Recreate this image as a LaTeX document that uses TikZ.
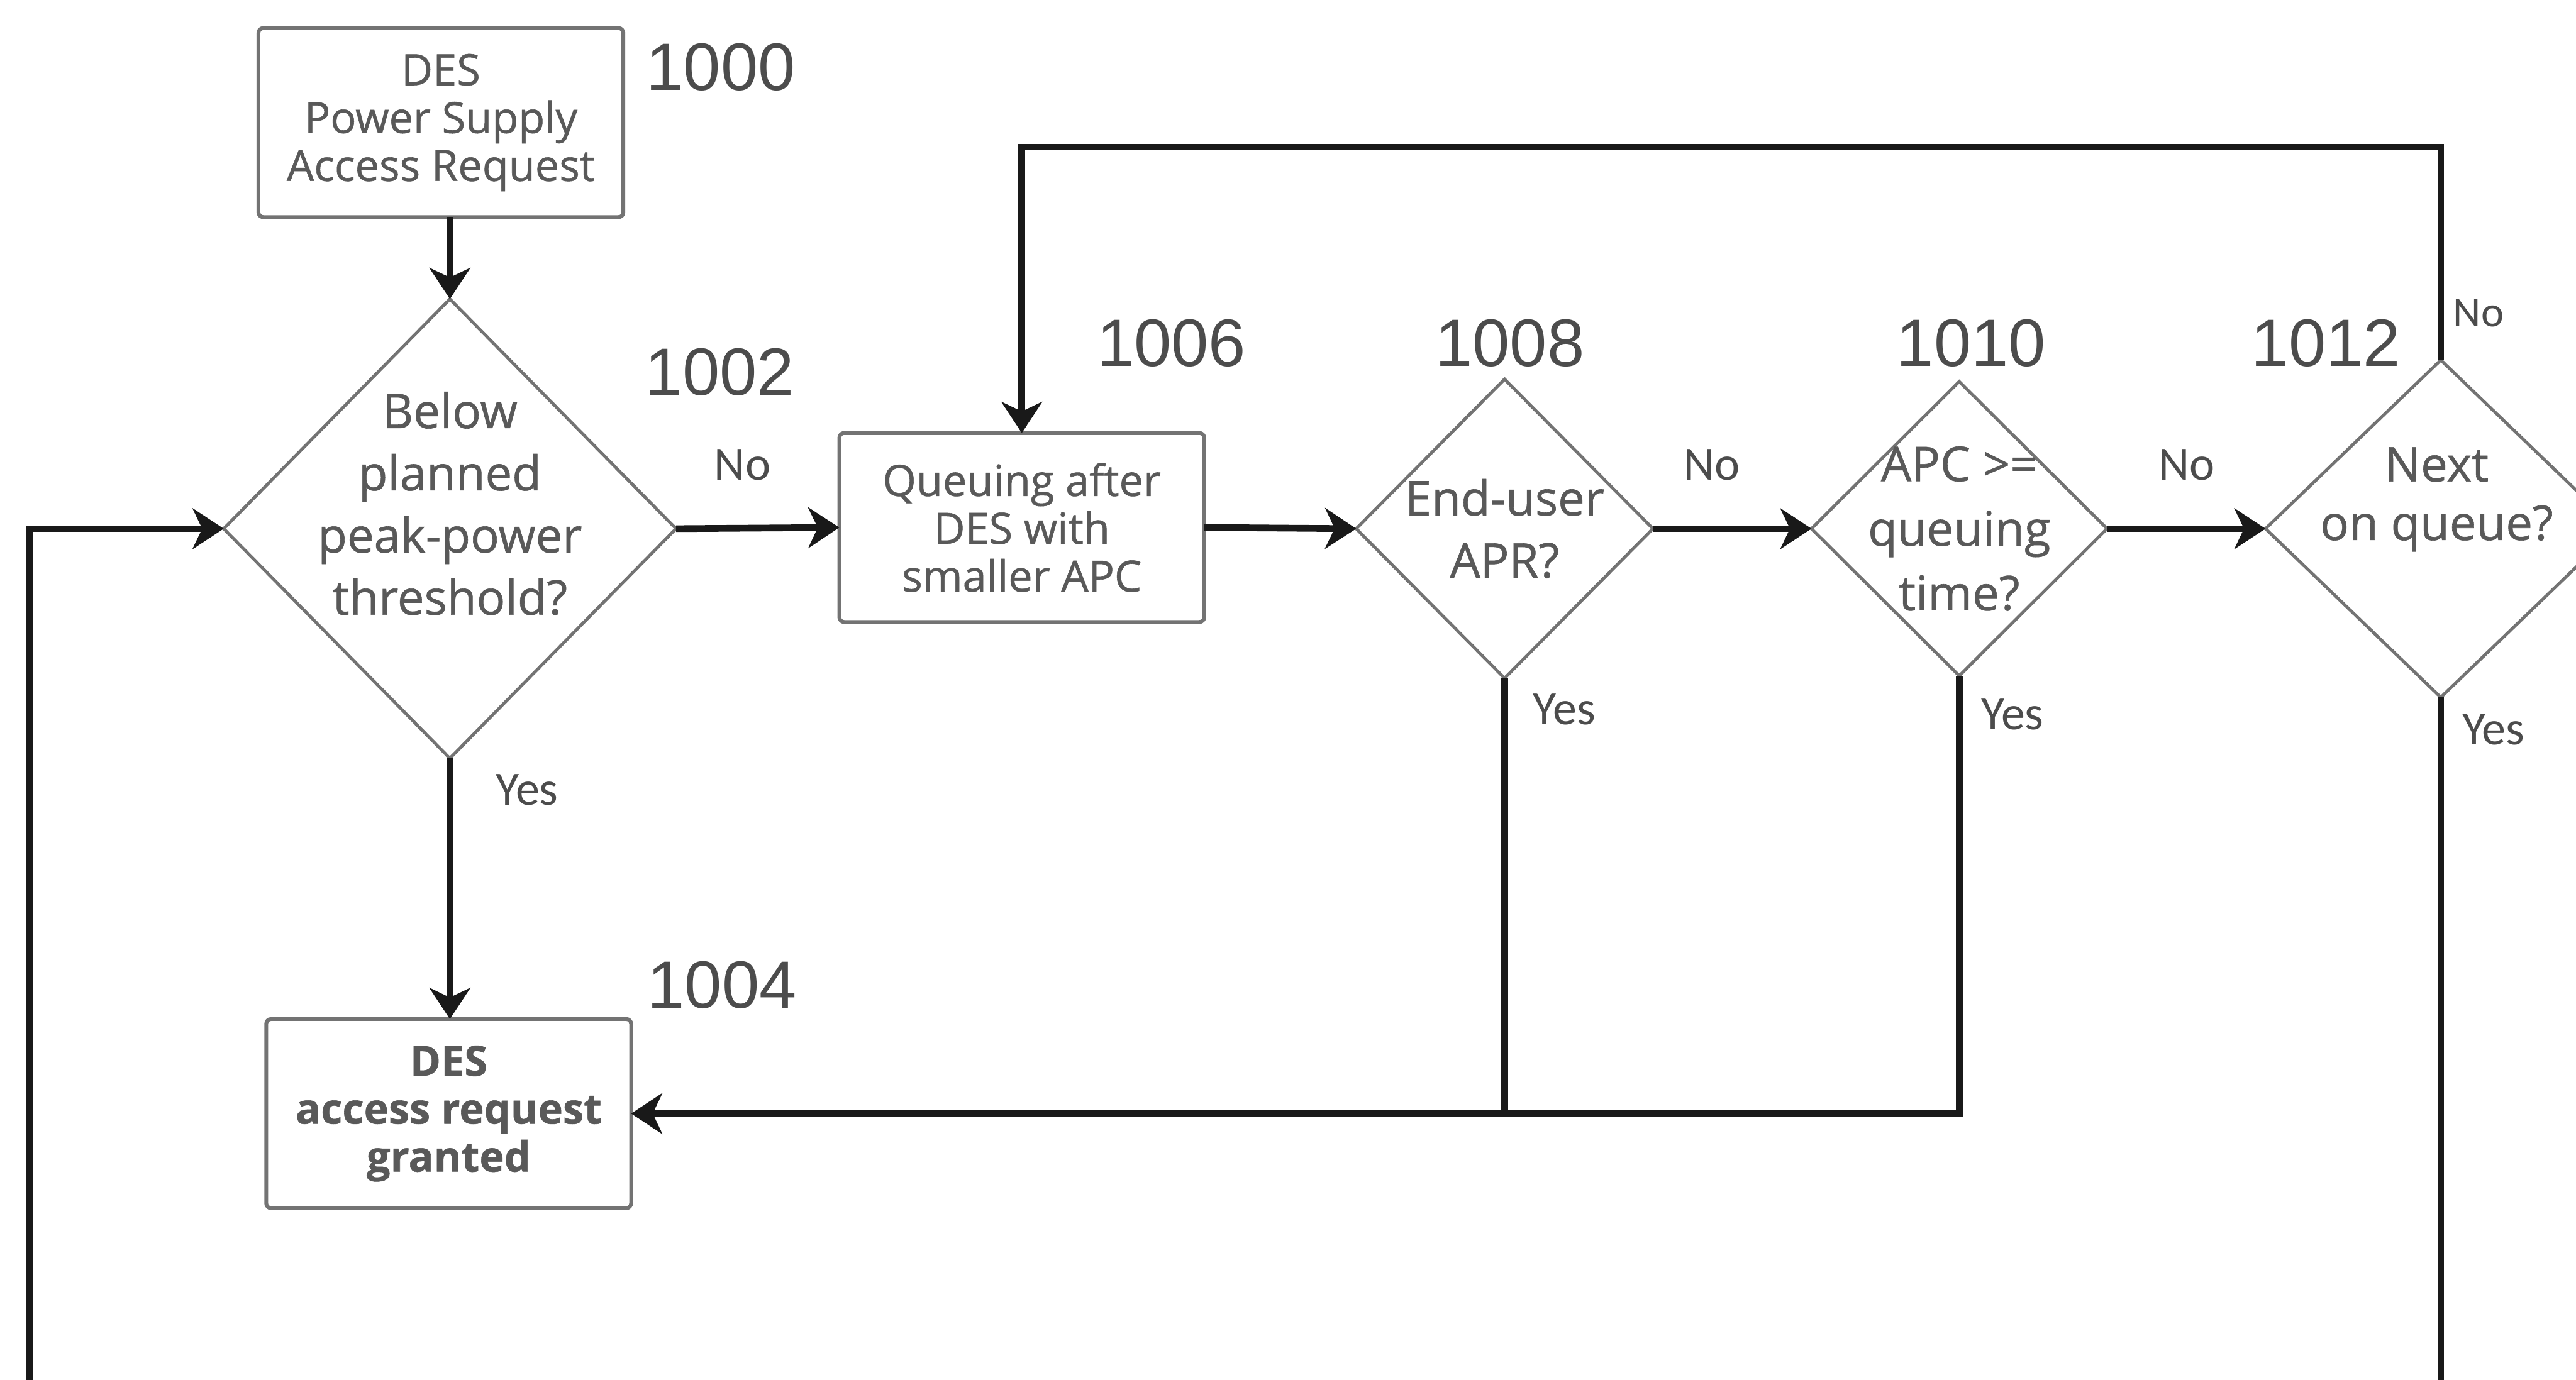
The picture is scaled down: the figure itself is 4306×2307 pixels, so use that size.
\documentclass[tikz,border=0pt]{standalone}
\usepackage{fontspec}
\setmainfont{Open Sans}[FakeBold=0.8]
\newfontfamily\numfont{Liberation Sans}
\newfontfamily\ynfont{Carlito}
\usetikzlibrary{arrows.meta,shapes.geometric}
\begin{document}
\begin{tikzpicture}[x=0.25pt,y=-0.25pt,
  boxnode/.style={draw=black!55, line width=1.6pt, rounded corners=2pt, minimum width=152.5pt, minimum height=79pt, inner sep=0pt, outer sep=0pt, align=center, text=black!65, font=\fontsize{18}{20}\selectfont},
  dia/.style={draw=black!55, line width=1.3pt, shape=diamond, inner sep=0pt, outer sep=0pt},
  dtext/.style={align=center, text=black!65, font=\fontsize{20}{26}\selectfont, inner sep=0pt},
  num/.style={text=black!70, font=\numfont\fontsize{28}{30}\selectfont, inner sep=0pt},
  yn/.style={text=black!70, font=\ynfont\fontsize{20}{22}\selectfont, inner sep=0pt},
  flow/.style={draw=black!90, line width=2.8pt, -{Stealth[length=13pt,width=17pt,inset=4pt]}},
  plainline/.style={draw=black!90, line width=2.8pt},
]
\useasboundingbox (0,0) rectangle (4306,2307);
\clip (0,0) rectangle (4306,2307);

% boxes and decisions
\node[boxnode] (b1000) at (737,205) {DES\\Power Supply\\Access Request};
\node[dia, minimum width=189pt, minimum height=192pt] (d1002) at (752,884) {};
\node[dtext] (t1002) at (752,842) {Below\\planned\\peak-power\\threshold?};
\node[boxnode] (b1006) at (1708,882) {Queuing after\\DES with\\smaller APC};
\node[boxnode, font=\bfseries\fontsize{17.5}{20}\selectfont] (b1004) at (750,1862) {DES\\access request\\granted};
\node[dia, minimum width=124pt, minimum height=125pt] (d1008) at (2515,884) {};
\node[dtext] (t1008) at (2515,884) {End-user\\APR?};
\node[dia, minimum width=123.5pt, minimum height=123pt] (d1010) at (3275,884) {};
\node[dtext, font=\fontsize{20}{27}\selectfont] (t1010) at (3275,884) {APC >=\\queuing\\time?};
\node[dia, minimum width=146.5pt, minimum height=141pt] (d1012) at (4080,884) {};
\node[dtext, font=\fontsize{20}{24.5}\selectfont] (t1012) at (4073,835) {Next\\on queue?};

% reference numbers
\node[num] (n1000) at (1205,112) {1000};
\node[num] (n1002) at (1203,622) {1002};
\node[num] (n1004) at (1207,1647) {1004};
\node[num] (n1006) at (1958,574) {1006};
\node[num] (n1008) at (2524,574) {1008};
\node[num] (n1010) at (3295,574) {1010};
\node[num] (n1012) at (3888,574) {1012};

% yes / no labels
\node[yn] (no1) at (1241,777) {No};
\node[yn] (no2) at (2862,777) {No};
\node[yn] (no3) at (3655,777) {No};
\node[yn, font=\ynfont\fontsize{18}{20}\selectfont] (no4) at (4143,523) {No};
\node[yn] (yes1) at (881,1321) {Yes};
\node[yn] (yes2) at (2615,1186) {Yes};
\node[yn] (yes3) at (3364,1195) {Yes};
\node[yn] (yes4) at (4168,1220) {Yes};

% helper coordinates
\coordinate (loopTop) at (1708,246);
\coordinate (yesEnd) at (4080,2330);
\coordinate (loopStart) at (50,2330);

% connectors
\draw[flow] (b1000.south -| d1002.north) -- (d1002.north);
\draw[flow] (d1002.east) -- (b1006.west);
\draw[flow] (b1006.east) -- (d1008.west);
\draw[flow] (d1008.east) -- (d1010.west);
\draw[flow] (d1010.east) -- (d1012.west);
\draw[flow] (d1012.north) |- (loopTop) -- (b1006.north);
\draw[flow] (d1002.south) -- (d1002.south |- b1004.north);
\draw[plainline] (d1008.south) -- (d1008.south |- b1004.east);
\draw[flow] (d1010.south) |- (b1004.east);
\draw[plainline] (d1012.south) -- (yesEnd);
\draw[flow] (loopStart) |- (d1002.west);
\end{tikzpicture}
\end{document}
